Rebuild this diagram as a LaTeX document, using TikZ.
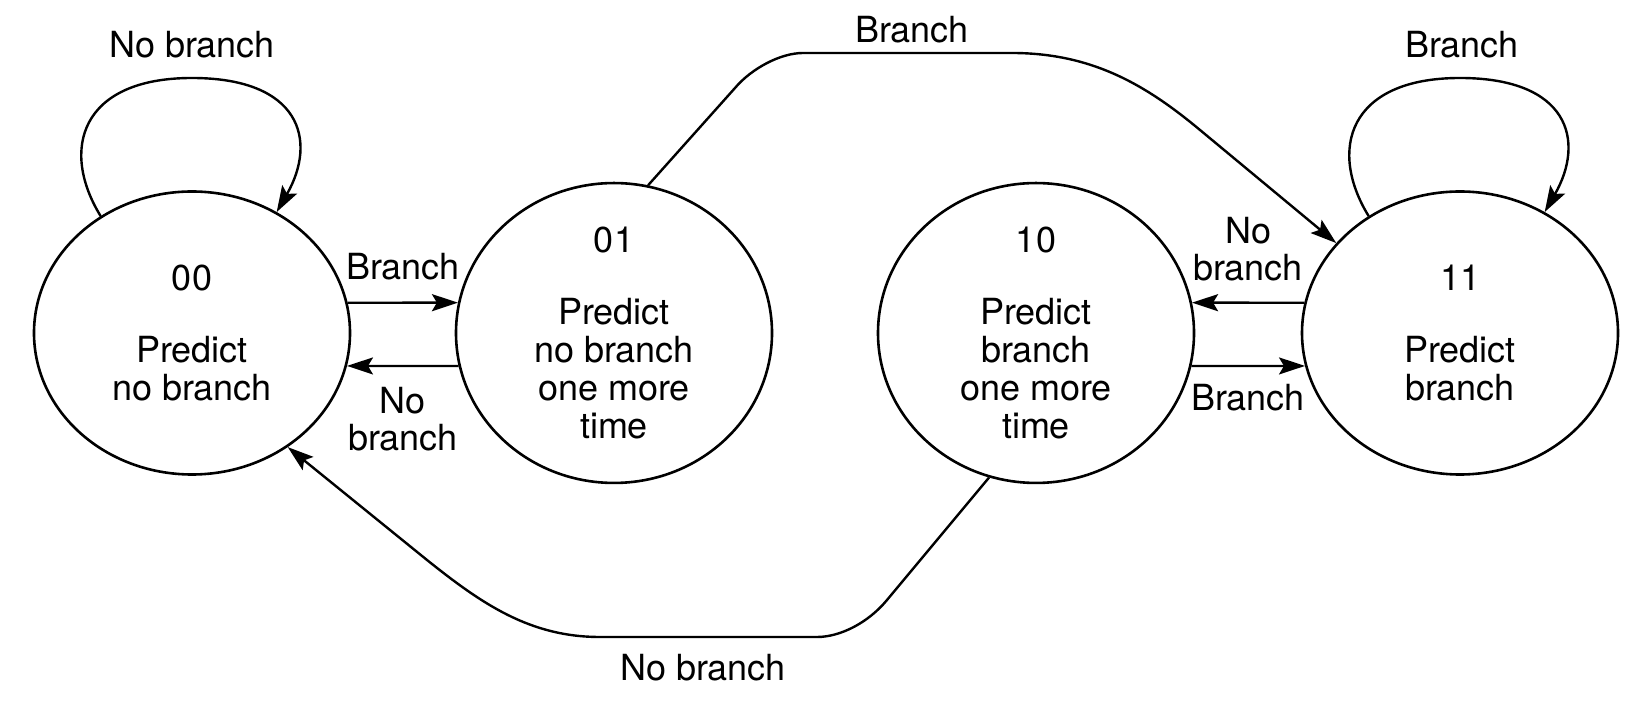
\documentclass[tikz,border=0pt]{standalone}
\usepackage{fontspec}
\setmainfont{TeX Gyre Heros}
\usetikzlibrary{shapes.geometric,arrows.meta}
\begin{document}
\begin{tikzpicture}[x=0.5pt,y=-0.5pt,
  state/.style={ellipse,draw,line width=1.3pt,minimum width=158pt,minimum height=141.5pt,
    inner sep=0pt,align=center,font=\fontsize{18}{19}\selectfont},
  lbl/.style={align=center,font=\fontsize{18}{18.5}\selectfont,inner sep=0pt},
  conn/.style={line width=1.2pt,-{Stealth[length=13pt,width=8.5pt,inset=2.5pt]}},
  ]
\useasboundingbox (0,0) rectangle (1644,704);
% states
\node[state] (s00) at (192,333) {00\\[17pt]Predict\\no branch};
\node[state] (s01) at (614,333) {01\\[17pt]Predict\\no branch\\one more\\time};
\node[state] (s10) at (1036,333) {10\\[17pt]Predict\\branch\\one more\\time};
\node[state] (s11) at (1460,333) {11\\[17pt]Predict\\branch};
% helper points
\coordinate (top00) at (192,78);
\coordinate (top11) at (1460,78);
\coordinate (t1) at (735,88);
\coordinate (t2) at (803,53);
\coordinate (t3) at (1012,53);
\coordinate (t4) at (1200,130);
\coordinate (b1) at (887,600);
\coordinate (b2) at (817,637);
\coordinate (b3) at (600,637);
\coordinate (b4) at (427,560);
% self loops
\draw[conn] (s00.128) .. controls (60,150) and (80,78) .. (top00)
  .. controls (300,78) and (318,140) .. (s00.55);
\draw[conn] (s11.128) .. controls (1328,150) and (1348,78) .. (top11)
  .. controls (1568,78) and (1586,140) .. (s11.55);
% horizontal transitions
\draw[conn] (s00.11) -- (s01.169);
\draw[conn] (s01.-168) -- (s00.-12);
\draw[conn] (s11.169) -- (s10.11);
\draw[conn] (s10.-12) -- (s11.-168);
% long arcs
\draw[conn] (s01.77) -- (t1) .. controls (751,69) and (780,53) .. (t2) -- (t3)
  .. controls (1092,53) and (1146,85) .. (t4) -- (s11.144);
\draw[conn] (s10.252) -- (b1) .. controls (868,623) and (840,637) .. (b2) -- (b3)
  .. controls (530,637) and (482,604) .. (b4) -- (s00.-50);
% labels
\node[lbl] (l1) at (192,45) {No branch};
\node[lbl] (l2) at (1462,45) {Branch};
\node[lbl] (l3) at (912,30) {Branch};
\node[lbl] (l4) at (703,668) {No branch};
\node[lbl] (l5) at (403,267) {Branch};
\node[lbl] (l6) at (403,419) {No\\branch};
\node[lbl] (l7) at (1248,249) {No\\branch};
\node[lbl] (l8) at (1248,398) {Branch};
\end{tikzpicture}
\end{document}
